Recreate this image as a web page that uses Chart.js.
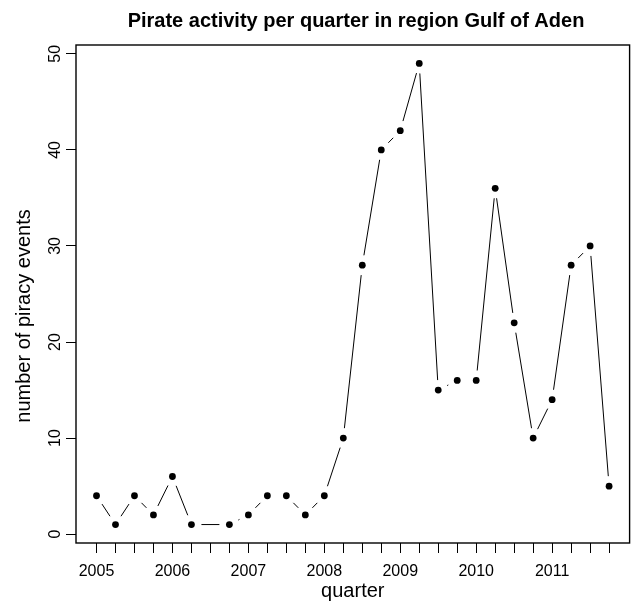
<!DOCTYPE html>
<html>
<head>
<meta charset="utf-8">
<script src="https://cdn.jsdelivr.net/npm/chart.js@4.4.1/dist/chart.umd.min.js"></script>
<style>
  html, body { margin: 0; padding: 0; background: #fff; }
  canvas { display: block; }
</style>
</head>
<body>
<canvas id="chart" width="633" height="606"></canvas>
<script>
// Quarterly piracy counts, Gulf of Aden (no record for 2006 Q3)
const quarters = [2005, 2005.25, 2005.5, 2005.75, 2006, 2006.25, 2006.75,
  2007, 2007.25, 2007.5, 2007.75, 2008, 2008.25, 2008.5, 2008.75,
  2009, 2009.25, 2009.5, 2009.75, 2010, 2010.25, 2010.5, 2010.75,
  2011, 2011.25, 2011.5, 2011.75];
const events = [4, 1, 4, 2, 6, 1, 1,
  2, 4, 4, 2, 4, 10, 28, 40,
  42, 49, 15, 16, 16, 36, 22, 10,
  14, 28, 30, 5];

// Axis tick positions and labels
const xTicks = [2005, 2005.25, 2005.5, 2005.75, 2006, 2006.25, 2006.5, 2006.75,
  2007, 2007.25, 2007.5, 2007.75, 2008, 2008.25, 2008.5, 2008.75,
  2009, 2009.25, 2009.5, 2009.75, 2010, 2010.25, 2010.5, 2010.75,
  2011, 2011.25, 2011.5, 2011.75];
const yTicks = [0, 10, 20, 30, 40, 50];

const titleText = 'Pirate activity per quarter in region Gulf of Aden';
const xTitle = 'quarter';
const yTitle = 'number of piracy events';

const FONT = '"Liberation Sans", Arial, Helvetica, sans-serif';

// Axis ranges padded 4% beyond the data, base-graphics style
function padded(values) {
  const lo = Math.min(...values), hi = Math.max(...values);
  const d = (hi - lo) * 0.04;
  return [lo - d, hi + d];
}
const [xMin, xMax] = padded(quarters);
const [yMin, yMax] = padded(events);

// Connecting segments that stop short of each point (type "b" look)
const gappedLines = {
  id: 'gappedLines',
  beforeDatasetsDraw(chart) {
    const pts = chart.getDatasetMeta(0).data;
    const ctx = chart.ctx;
    const gap = 10;
    ctx.save();
    ctx.strokeStyle = '#000';
    ctx.lineWidth = 1;
    ctx.beginPath();
    for (let i = 0; i < pts.length - 1; i++) {
      const a = pts[i], b = pts[i + 1];
      const dx = b.x - a.x, dy = b.y - a.y;
      const len = Math.hypot(dx, dy);
      const f = gap / len;
      if (f < 0.5) {
        ctx.moveTo(a.x + f * dx, a.y + f * dy);
        ctx.lineTo(b.x - f * dx, b.y - f * dy);
      }
    }
    ctx.stroke();
    ctx.restore();
  }
};

// Frame, titles and rotated y tick labels
const decorations = {
  id: 'decorations',
  beforeDraw(chart) {
    const ctx = chart.ctx;
    ctx.save();
    ctx.fillStyle = '#fff';
    ctx.fillRect(0, 0, chart.width, chart.height);
    ctx.restore();
  },
  afterDraw(chart) {
    const ctx = chart.ctx;
    const area = chart.chartArea;
    const ys = chart.scales.y;
    ctx.save();
    ctx.strokeStyle = '#000';
    ctx.lineWidth = 1.4;
    ctx.strokeRect(area.left, area.top, area.right - area.left, area.bottom - area.top);

    ctx.fillStyle = '#000';
    ctx.textAlign = 'center';
    ctx.textBaseline = 'alphabetic';
    ctx.font = 'bold 20px ' + FONT;
    ctx.fillText(titleText, 356, 26.5);

    ctx.font = '20px ' + FONT;
    ctx.fillText(xTitle, (area.left + area.right) / 2, 597);

    ctx.save();
    ctx.translate(30, 316);
    ctx.rotate(-Math.PI / 2);
    ctx.fillText(yTitle, 0, 0);
    ctx.restore();

    ctx.font = '16px ' + FONT;
    ys.ticks.forEach(t => {
      const py = ys.getPixelForValue(t.value);
      ctx.save();
      ctx.translate(59.5, py);
      ctx.rotate(-Math.PI / 2);
      ctx.fillText(String(t.value), 0, 0);
      ctx.restore();
    });
    ctx.restore();
  }
};

new Chart(document.getElementById('chart'), {
  type: 'scatter',
  data: {
    datasets: [{
      data: quarters.map((q, i) => ({ x: q, y: events[i] })),
      showLine: false,
      pointRadius: 3.4,
      pointHoverRadius: 3.4,
      pointBackgroundColor: '#000',
      pointBorderWidth: 0
    }]
  },
  options: {
    responsive: false,
    animation: false,
    layout: { padding: { left: 0, right: 2, top: 45, bottom: 0 } },
    plugins: {
      legend: { display: false },
      title: { display: false },
      tooltip: { enabled: false }
    },
    scales: {
      x: {
        type: 'linear',
        min: xMin,
        max: xMax,
        afterBuildTicks: s => { s.ticks = xTicks.map(v => ({ value: v })); },
        afterFit: s => { s.height = 63; },
        border: { display: false },
        grid: {
          drawOnChartArea: false,
          drawTicks: true,
          tickLength: 10,
          tickColor: '#000',
          tickWidth: 1
        },
        ticks: {
          autoSkip: false,
          maxRotation: 0,
          minRotation: 0,
          padding: 9,
          color: '#000',
          font: { family: FONT, size: 16 },
          callback: v => (Number.isInteger(v) ? String(v) : '')
        }
      },
      y: {
        type: 'linear',
        min: yMin,
        max: yMax,
        afterBuildTicks: s => { s.ticks = yTicks.map(v => ({ value: v })); },
        afterFit: s => { s.width = 76; },
        border: { display: false },
        grid: {
          drawOnChartArea: false,
          drawTicks: true,
          tickLength: 10,
          tickColor: '#000',
          tickWidth: 1
        },
        ticks: {
          color: 'rgba(0,0,0,0)',
          font: { family: FONT, size: 16 },
          callback: v => String(v)
        }
      }
    }
  },
  plugins: [decorations, gappedLines]
});
</script>
</body>
</html>
